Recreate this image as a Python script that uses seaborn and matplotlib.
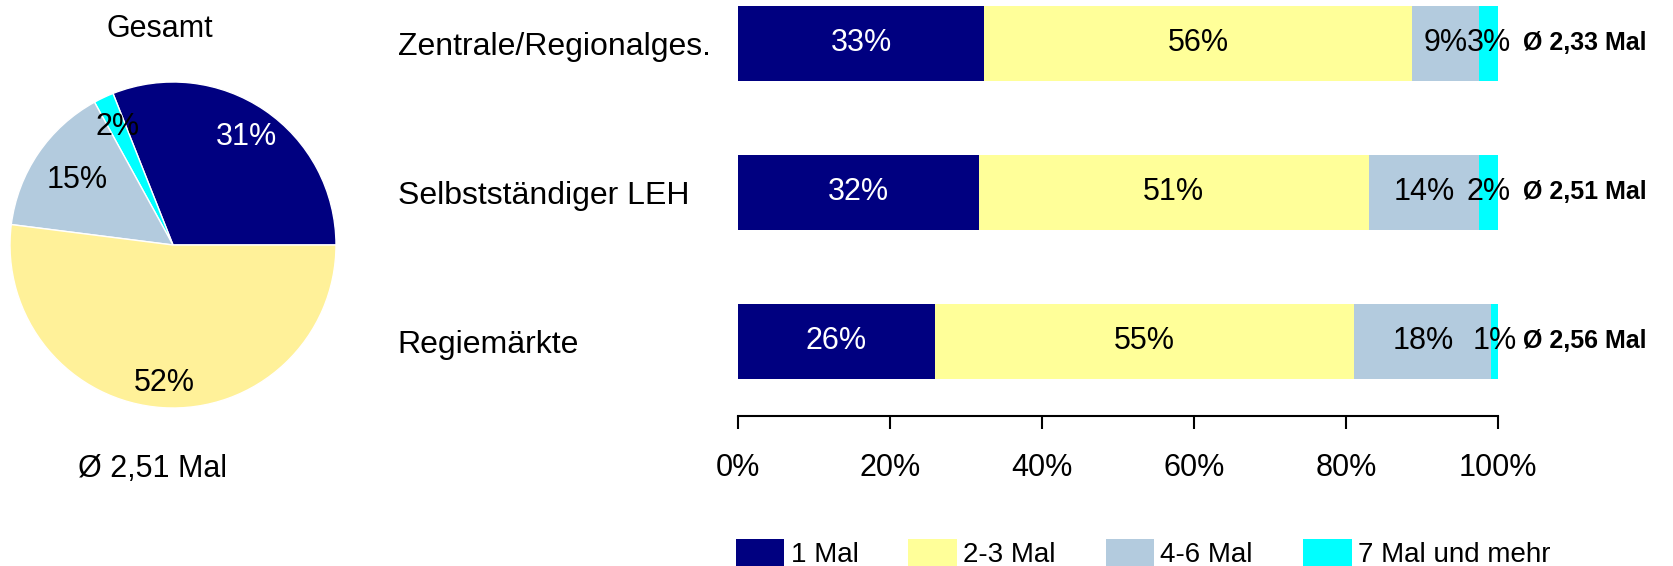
import numpy as np
import matplotlib
matplotlib.use('Agg')
import matplotlib.pyplot as plt
import seaborn as sns

# data
series = ['1 Mal', '2-3 Mal', '4-6 Mal', '7 Mal und mehr']
bar_colors = ['#000080', '#FFFF99', '#B3CBDE', '#00FFFF']
pie_colors = ['#000080', '#FFF199', '#B3CBDE', '#00FFFF']

groups = ['Zentrale/Regionalges.', 'Selbstständiger LEH', 'Regiemärkte']
share_1 = [32.4, 31.7, 25.9]
share_23 = [56.3, 51.3, 55.2]
share_46 = [8.8, 14.5, 18.0]
share_7 = [2.5, 2.5, 0.9]
label_1 = ['33%', '32%', '26%']
label_23 = ['56%', '51%', '55%']
label_46 = ['9%', '14%', '18%']
label_7 = ['3%', '2%', '1%']
avg_text = ['Ø 2,33 Mal', 'Ø 2,51 Mal', 'Ø 2,56 Mal']

pie_values = [31, 2, 15, 52]   # 1 Mal, 7+, 4-6, 2-3 (counterclockwise from 0°)
pie_order = [0, 3, 2, 1]
pie_total_text = 'Ø 2,51 Mal'

sns.set_theme(style='white')
plt.rcParams['font.family'] = ['Liberation Sans', 'DejaVu Sans']
plt.rcParams['text.color'] = 'black'
plt.rcParams['xtick.color'] = 'black'
plt.rcParams['ytick.color'] = 'black'

fig = plt.figure(figsize=(16.74, 5.66), dpi=100)

# pie
axp = fig.add_axes([10 / 1674, (566 - 245 - 163) / 566, 326 / 1674, 326 / 566])
wedges, texts, autotexts = axp.pie(
    pie_values, colors=[pie_colors[i] for i in pie_order],
    startangle=0, counterclock=True, autopct='%d%%', pctdistance=0.8,
    textprops={'fontsize': 22, 'color': 'black'})
autotexts[0].set_color('white')
# per-slice label distance like the original
for t, d in zip(autotexts, [0.8, 0.8, 0.71, 0.85]):
    x, y0 = t.get_position()
    t.set_position((x / 0.8 * d, y0 / 0.8 * d))
axp.set_xlim(-1, 1)
axp.set_ylim(-1, 1)
axp.set_aspect('equal')
fig.text(160 / 1674, 1 - 29 / 566, 'Gesamt', ha='center', va='center', fontsize=22)
fig.text(153 / 1674, 1 - 469 / 566, pie_total_text, ha='center', va='center', fontsize=22)

# stacked bars
ax = fig.add_axes([738 / 1674, (566 - 416) / 566, 760 / 1674, 416 / 566])
y = np.arange(len(groups))
left = np.zeros(len(groups))
all_shares = [share_1, share_23, share_46, share_7]
all_labels = [label_1, label_23, label_46, label_7]
handles = []
for k, (vals, labs) in enumerate(zip(all_shares, all_labels)):
    bars = ax.barh(y, vals, left=left, height=0.5, color=bar_colors[k],
                   label=series[k], linewidth=0)
    ax.bar_label(bars, labels=labs, label_type='center', fontsize=22,
                 color='white' if k == 0 else 'black')
    handles.append(bars)
    left = left + np.array(vals)

for i, t in enumerate(avg_text):
    ax.annotate(t, xy=(100, i), xytext=(18, 0), textcoords='offset points',
                ha='left', va='center', fontsize=18, fontweight='bold',
                color='black')

ax.set_xlim(0, 100)
ax.set_ylim(2.5, -0.29)
ax.set_xticks([0, 20, 40, 60, 80, 100])
ax.set_xticklabels(['0%', '20%', '40%', '60%', '80%', '100%'], fontsize=22)
ax.set_yticks(y)
ax.set_yticklabels(groups, fontsize=23)
for lab in ax.get_yticklabels():
    lab.set_horizontalalignment('left')
ax.tick_params(axis='y', length=0, pad=245)
ax.tick_params(axis='x', bottom=True, direction='out', length=9, width=1.5,
               color='black', pad=18)
sns.despine(ax=ax, left=True, top=True, right=True)
ax.spines['bottom'].set_color('black')
ax.spines['bottom'].set_linewidth(1.5)

fig.legend(handles=handles, labels=series, loc='center', ncol=4,
           bbox_to_anchor=(1143 / 1674, 0.022), frameon=False, fontsize=20,
           handlelength=1.75, handleheight=1.1, handletextpad=0.22,
           columnspacing=1.8)

fig.savefig('out.png', dpi=100)
